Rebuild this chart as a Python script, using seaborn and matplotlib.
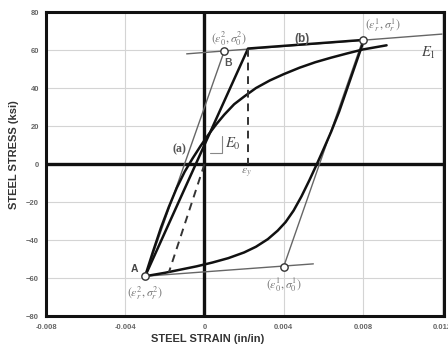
import matplotlib
matplotlib.use("Agg")
import matplotlib.pyplot as plt
import seaborn as sns

# ---- data ----
# reloading branch starting at reversal point A
up_strain = [-0.0030, -0.0026, -0.0022, -0.0018, -0.0014, -0.0010, -0.0006, -0.0002,
             0.0002, 0.0006, 0.0010, 0.0015, 0.0020, 0.0026, 0.0033, 0.0040,
             0.0048, 0.0056, 0.0064, 0.0072, 0.0080, 0.0092]
up_stress = [-59, -46, -33.5, -22.5, -12.5, -4, 3, 9.5,
             15.5, 21, 26, 31.5, 35.5, 40, 44, 47.3,
             50.7, 53.6, 56, 58.2, 60.3, 62.5]
# unloading branch from reversal point 1 to A
dn_strain = [0.0080, 0.0076, 0.0072, 0.0068, 0.0064, 0.0060, 0.0057, 0.0053, 0.0049,
             0.0045, 0.0041, 0.0037, 0.0032, 0.0026, 0.0020, 0.0012, 0.0004,
             -0.0004, -0.0012, -0.0020, -0.0030]
dn_stress = [63.5, 51.5, 39.5, 27.5, 17, 7.5, 0.5, -8.5, -17,
             -24.5, -30.5, -35, -39.5, -43.5, -46.5, -49.5, -51.8,
             -53.8, -55.5, -57.2, -59]
# straight thick line A -> yield corner, hardening line to reversal 1
env_strain = [-0.0030, 0.0022, 0.0080]
env_stress = [-59, 60.8, 65.3]
# thin asymptotes
a_line_strain = [-0.0030, 0.0010]
a_line_stress = [-59, 59.5]
b_line_strain = [-0.0009, 0.0120]
b_line_stress = [58.0, 68.4]
unl_asym_strain = [0.0080, 0.0040]
unl_asym_stress = [65.3, -54]
low_asym_strain = [-0.0030, 0.0055]
low_asym_stress = [-59, -52.5]
# dashed lines
dash1_strain = [0.0, -0.0018]
dash1_stress = [0.0, -57]
eps_y_strain = [0.0022, 0.0022]
eps_y_stress = [60.8, 0.0]
# marked points
pt_strain = [0.0010, 0.0080, -0.0030, 0.0040]
pt_stress = [59.5, 65.3, -59, -54]

x_ticks = [-0.008, -0.004, 0, 0.004, 0.008, 0.012]
x_ticklabels = ["-0.008", "-0.004", "0", "0.004", "0.008", "0.012"]
y_ticks = [-80, -60, -40, -20, 0, 20, 40, 60, 80]

sns.set_theme(style="white")
plt.rcParams["font.family"] = ["Liberation Sans", "DejaVu Sans"]
plt.rcParams["mathtext.fontset"] = "stix"

fig = plt.figure(figsize=(4.48, 3.44), dpi=100)
ax = fig.add_axes([0.103, 0.081, 0.888, 0.884])
ax.set_xlim(-0.008, 0.0121)
ax.set_ylim(-80, 80)

ax.set_xticks(x_ticks)
ax.set_xticklabels(x_ticklabels)
ax.set_yticks(y_ticks)
ax.grid(True, color="#d4d4d4", linewidth=0.8)
ax.tick_params(axis="x", labelsize=5.5, colors="#666666", length=0, pad=6)
ax.tick_params(axis="y", labelsize=5.5, colors="#666666", length=0, pad=5)
for lab in ax.get_xticklabels() + ax.get_yticklabels():
    lab.set_fontweight("bold")
for s in ax.spines.values():
    s.set_linewidth(2.2)
    s.set_color("#111111")

ax.axhline(0, color="#111111", lw=2.4, zorder=2)
ax.axvline(0, color="#111111", lw=2.4, zorder=2)

thin = dict(color="#666666", lw=1.0)
thick = dict(color="#111111", lw=1.8)

def seg(xs, ys, **kw):
    sns.lineplot(x=xs, y=ys, sort=False, estimator=None, ax=ax, legend=False, **kw)

seg(a_line_strain, a_line_stress, **thin)
seg(b_line_strain, b_line_stress, **thin)
seg(unl_asym_strain, unl_asym_stress, **thin)
seg(low_asym_strain, low_asym_stress, **thin)
seg(env_strain, env_stress, **thick)
seg(up_strain, up_stress, **thick)
seg(dn_strain, dn_stress, **thick)
ax.plot(dash1_strain, dash1_stress, color="#333333", lw=1.4, ls=(0, (4, 3)))
ax.plot(eps_y_strain, eps_y_stress, color="#333333", lw=1.4, ls=(0, (4, 3)))

# E0 triangle
ax.plot([0.00026, 0.00086, 0.00086], [6, 6, 14.7], color="#888888", lw=0.8)

sns.scatterplot(x=pt_strain, y=pt_stress, ax=ax, s=28, color="white",
                edgecolor="#333333", linewidth=1.0, zorder=5, legend=False)

gray = "#777777"
ax.text(0.00123, 66, r"$(\varepsilon_0^2,\sigma_0^2)$", ha="center", va="center", fontsize=8.5, color=gray)
ax.text(0.00118, 53, "B", ha="center", va="center", fontsize=7.5, color="#555555", fontweight="bold")
ax.text(0.00495, 66, "(b)", ha="center", va="center", fontsize=8.5, color="#555555", fontweight="bold")
ax.text(0.0090, 73, r"$(\varepsilon_r^1,\sigma_r^1)$", ha="center", va="center", fontsize=8.5, color=gray)
ax.text(0.0113, 58.5, r"$E_1$", ha="center", va="center", fontsize=10.5, color="#444444")
ax.text(-0.00128, 8, "(a)", ha="center", va="center", fontsize=8.5, color="#555555", fontweight="bold",
        family="Liberation Serif")
ax.text(0.00142, 10.5, r"$E_0$", ha="center", va="center", fontsize=10.5, color="#444444")
ax.text(0.0021, -5, r"$\varepsilon_y$", ha="center", va="center", fontsize=8.5, color=gray)
ax.text(-0.00354, -55.3, "A", ha="center", va="center", fontsize=7.5, color="#444444", fontweight="bold")
ax.text(-0.0030, -68, r"$(\varepsilon_r^2,\sigma_r^2)$", ha="center", va="center", fontsize=8.5, color=gray)
ax.text(0.0040, -63.5, r"$(\varepsilon_0^1,\sigma_0^1)$", ha="center", va="center", fontsize=8.5, color=gray)

ax.set_xlabel("STEEL STRAIN (in/in)", fontsize=8, fontweight="bold", color="#333333")
ax.set_ylabel("STEEL STRESS (ksi)", fontsize=8, fontweight="bold", color="#333333")
ax.xaxis.set_label_coords(0.405, -0.058)
ax.yaxis.set_label_coords(-0.068, 0.53)

fig.savefig("out.png", dpi=100)
